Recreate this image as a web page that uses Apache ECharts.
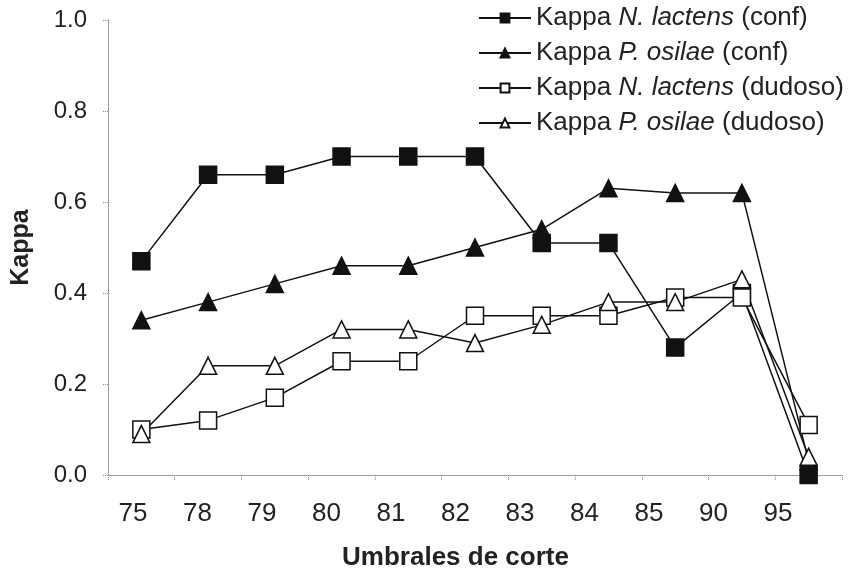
<!DOCTYPE html>
<html>
<head>
<meta charset="utf-8">
<script src="https://cdn.jsdelivr.net/npm/echarts@6/dist/echarts.min.js"></script>
<style>html,body{margin:0;padding:0;background:#fff;}#c{width:850px;height:576px;}</style>
</head>
<body>
<div id="c"></div>
<script>
var categories = ['75', '78', '79', '80', '81', '82', '83', '84', '85', '90', '95'];
var seriesNames = ['Kappa N. lactens (conf)', 'Kappa P. osilae (conf)', 'Kappa N. lactens (dudoso)', 'Kappa P. osilae (dudoso)'];
var speciesNames = ['N. lactens', 'P. osilae'];
var nLactensConf = [0.47, 0.66, 0.66, 0.70, 0.70, 0.70, 0.51, 0.51, 0.28, 0.40, 0.00];
var pOsilaeConf = [0.34, 0.38, 0.42, 0.46, 0.46, 0.50, 0.54, 0.63, 0.62, 0.62, 0.03];
var nLactensDud = [0.10, 0.12, 0.17, 0.25, 0.25, 0.35, 0.35, 0.35, 0.39, 0.39, 0.11];
var pOsilaeDud = [0.09, 0.24, 0.24, 0.32, 0.32, 0.29, 0.33, 0.38, 0.38, 0.43, 0.04];
var yTicks = [0, 0.2, 0.4, 0.6, 0.8, 1.0];

var FONT = '"Liberation Sans", Arial, sans-serif';
var chart = echarts.init(document.getElementById('c'), null, {renderer: 'canvas'});

function mkSeries(name, data, symbol, filled) {
  return {
    name: name,
    type: 'line',
    xAxisIndex: 0,
    yAxisIndex: 0,
    data: data,
    symbol: symbol,
    symbolSize: 17,
    lineStyle: {color: '#111', width: 1.5},
    itemStyle: {color: filled ? '#111' : '#fff', borderColor: '#111', borderWidth: 1.5},
    emphasis: {disabled: true},
    animation: false
  };
}

var axisGray = {color: '#8a8a8a', width: 1, type: 'dotted'};

chart.setOption({
  backgroundColor: '#fff',
  animation: false,
  textStyle: {fontFamily: FONT},
  grid: [
    {left: 108, right: 8, top: 20, bottom: 101},
    {left: 100.75, right: 39.75, top: 20, bottom: 101}
  ],
  legend: {
    orient: 'vertical',
    left: 473,
    top: 0,
    itemWidth: 52,
    itemHeight: 11,
    itemGap: 9,
    data: seriesNames,
    formatter: function (name) {
      for (var i = 0; i < speciesNames.length; i++) {
        var idx = name.indexOf(speciesNames[i]);
        if (idx >= 0) {
          return '{n|' + name.slice(0, idx) + '}{i|' + speciesNames[i] + '}{n|' + name.slice(idx + speciesNames[i].length) + '}';
        }
      }
      return '{n|' + name + '}';
    },
    textStyle: {
      fontFamily: FONT,
      fontSize: 26,
      color: '#222',
      lineHeight: 26,
      rich: {
        n: {fontFamily: FONT, fontSize: 26, color: '#222', lineHeight: 26},
        i: {fontFamily: FONT, fontSize: 26, color: '#222', fontStyle: 'italic', lineHeight: 26}
      }
    }
  },
  xAxis: [
    {
      type: 'category',
      gridIndex: 0,
      data: categories,
      boundaryGap: true,
      axisLine: {show: true, lineStyle: axisGray},
      axisTick: {show: true, inside: false, length: 6, lineStyle: axisGray, alignWithLabel: false},
      axisLabel: {show: false},
      splitLine: {show: false}
    },
    {
      type: 'category',
      gridIndex: 1,
      data: categories,
      boundaryGap: true,
      axisLine: {show: false},
      axisTick: {show: false},
      axisLabel: {show: true, fontFamily: FONT, fontSize: 26, color: '#222', margin: 29},
      splitLine: {show: false},
      name: 'Umbrales de corte',
      nameLocation: 'middle',
      nameGap: 73,
      nameTextStyle: {fontFamily: FONT, fontSize: 26, fontWeight: 'bold', color: '#222'}
    }
  ],
  yAxis: [
    {
      type: 'value',
      gridIndex: 0,
      min: yTicks[0],
      max: yTicks[yTicks.length - 1],
      interval: 0.2,
      axisLine: {show: true, lineStyle: axisGray},
      axisTick: {show: true, inside: false, length: 6, lineStyle: axisGray},
      axisLabel: {
        show: true, fontFamily: FONT, fontSize: 24, color: '#222', margin: 21,
        formatter: function (v) { return v.toFixed(1); }
      },
      splitLine: {show: false},
      name: 'Kappa',
      nameLocation: 'middle',
      nameGap: 74,
      nameRotate: 90,
      nameTextStyle: {fontFamily: FONT, fontSize: 25, fontWeight: 'bold', color: '#222'}
    },
    {
      type: 'value',
      gridIndex: 1,
      min: 0,
      max: 1,
      show: false
    }
  ],
  series: [
    mkSeries(seriesNames[0], nLactensConf, 'rect', true),
    mkSeries(seriesNames[1], pOsilaeConf, 'triangle', true),
    mkSeries(seriesNames[2], nLactensDud, 'rect', false),
    mkSeries(seriesNames[3], pOsilaeDud, 'triangle', false)
  ]
});
</script>
</body>
</html>
